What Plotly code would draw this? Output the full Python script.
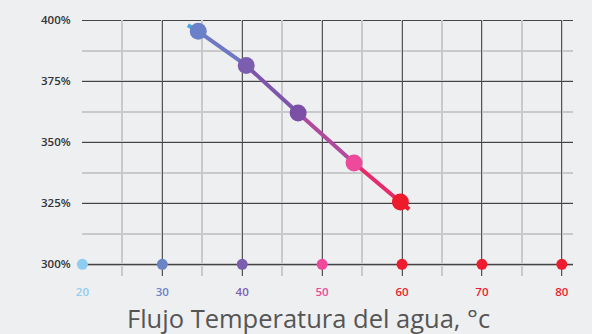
import plotly.graph_objects as go

# Data
temp = [34.5, 40.5, 47.0, 54.0, 59.8]
cop = [395.5, 381.5, 362.0, 341.5, 325.5]
point_colors = ["#6a80c8", "#7b5eb0", "#7a4fa5", "#ee4a9c", "#ec1c2c"]
line_start = (33.2, 398.0)
line_end = (60.9, 322.5)
segment_colors = ["#4aa8e0", "#6f78c2", "#7d55aa", "#b04a9e", "#e62a6a", "#ee1c2e"]

tick_temps = [20, 30, 40, 50, 60, 70, 80]
tick_colors = ["#8ecdf0", "#6a84c8", "#7b5eb0", "#f0489a", "#ee1c2e", "#ee1c2e", "#ee1c2e"]
y_ticks = [300, 325, 350, 375, 400]
y_ticktext = [f"{v}%" for v in y_ticks]
base_value = 300
title_text = "Flujo Temperatura del agua, °c"

fig = go.Figure()

# gradient-like line built from segments between consecutive points
xs = [line_start[0]] + temp + [line_end[0]]
ys = [line_start[1]] + cop + [line_end[1]]
for i in range(len(xs) - 1):
    fig.add_trace(go.Scatter(
        x=[xs[i], xs[i + 1]], y=[ys[i], ys[i + 1]], mode="lines",
        line=dict(color=segment_colors[i], width=4), hoverinfo="skip",
        showlegend=False, cliponaxis=False))

fig.add_trace(go.Scatter(
    x=temp, y=cop, mode="markers",
    marker=dict(color=point_colors, size=17, line=dict(width=0)),
    showlegend=False, cliponaxis=False))

# base line at 300%
fig.add_shape(type="line", xref="paper", x0=0, x1=1, yref="y",
              y0=base_value, y1=base_value, line=dict(color="#7a7a7a", width=2.5),
              layer="below")
# top border line at 400%
fig.add_shape(type="line", xref="paper", x0=0, x1=1, yref="y",
              y0=y_ticks[-1], y1=y_ticks[-1], line=dict(color="#444444", width=1.3),
              layer="below")

fig.add_trace(go.Scatter(
    x=tick_temps, y=[base_value] * len(tick_temps), mode="markers",
    marker=dict(color=tick_colors, size=11, line=dict(width=0)),
    showlegend=False, cliponaxis=False))

ticktext = [f"<span style='color:{c}'>{t}</span>" for t, c in zip(tick_temps, tick_colors)]

fig.update_layout(
    width=592, height=334,
    margin=dict(l=82, r=19, t=16, b=58),
    paper_bgcolor="#eeeff1", plot_bgcolor="rgba(0,0,0,0)",
    font=dict(family="Open Sans", color="#333333"),
    xaxis=dict(
        range=[19.95, 81.4], tickvals=tick_temps, ticktext=ticktext,
        showgrid=True, gridcolor="#555555", gridwidth=1.3,
        minor=dict(dtick=5, tick0=0, showgrid=True, gridcolor="#c9c9cb", gridwidth=1.6),
        zeroline=False, showline=False,
        ticks="outside", ticklen=5, tickcolor="rgba(0,0,0,0)",
        tickfont=dict(size=11.5, family="Open Sans", weight=600),
    ),
    yaxis=dict(
        range=[295.2, 400.15], tickvals=y_ticks, ticktext=y_ticktext,
        showgrid=True, gridcolor="#444444", gridwidth=1.3,
        minor=dict(dtick=12.5, tick0=0, showgrid=True, gridcolor="#c9c9cb", gridwidth=1.6),
        zeroline=False, showline=False,
        ticks="outside", ticklen=8, tickcolor="rgba(0,0,0,0)",
        tickfont=dict(size=11.5, family="Open Sans", color="#333333", weight=600),
    ),
)

fig.add_annotation(
    text=title_text, xref="paper", yref="paper", x=0.461, y=-0.165,
    xanchor="center", yanchor="middle", showarrow=False,
    font=dict(size=25.5, family="Open Sans", color="#555555"))

fig.write_html("out.html", config={"displayModeBar": False},
               post_script="document.body.style.margin='0';document.body.style.overflow='hidden';")
